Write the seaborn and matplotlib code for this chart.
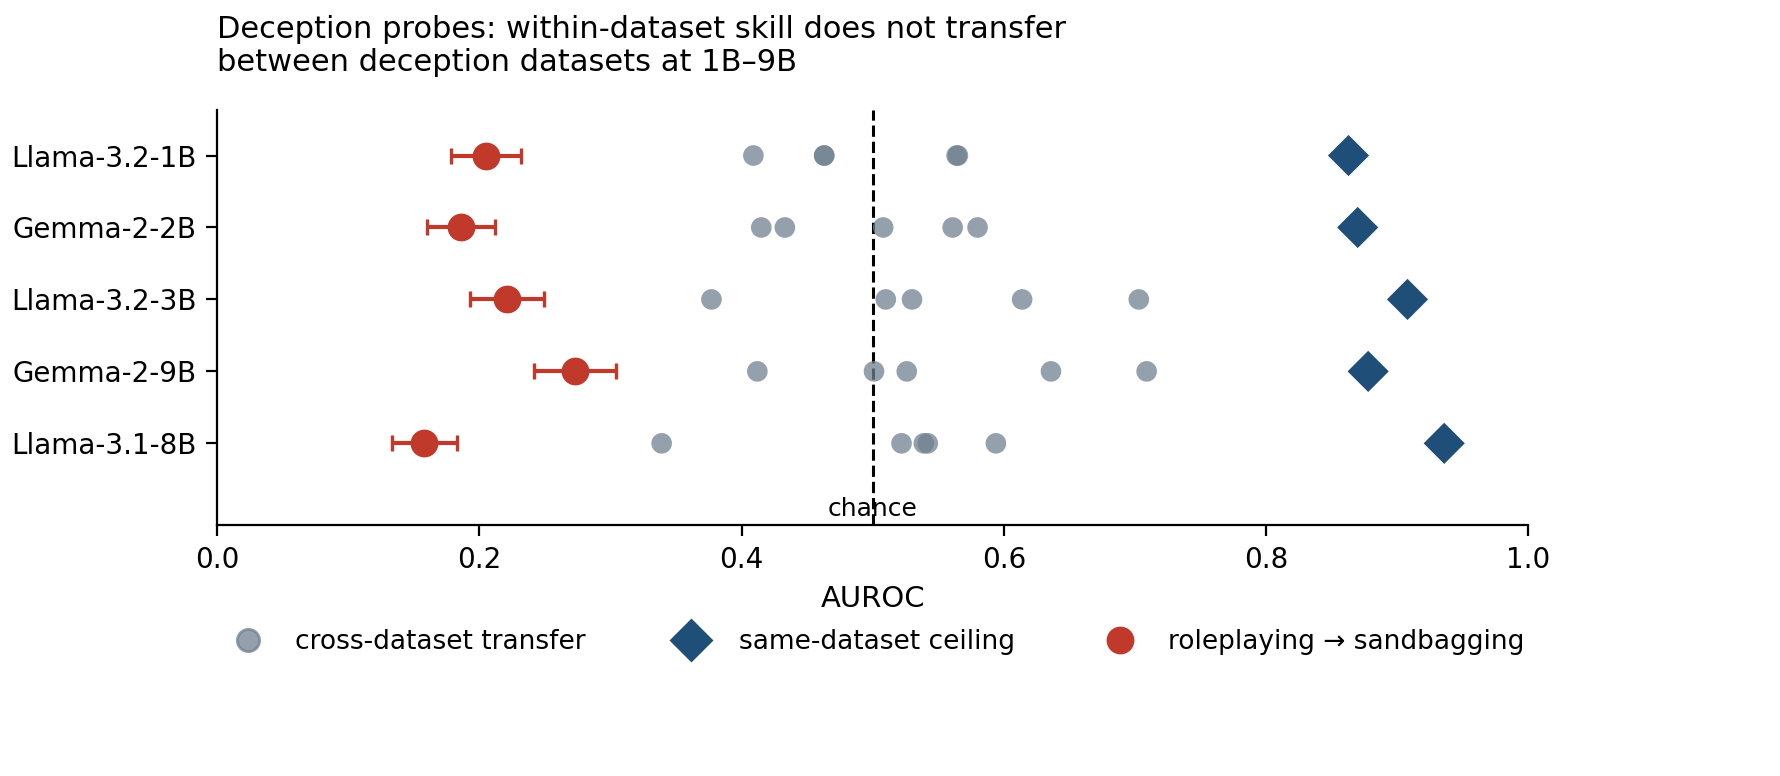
import matplotlib
matplotlib.use("Agg")
import matplotlib.pyplot as plt
import seaborn as sns
import pandas as pd
from matplotlib.lines import Line2D

models = ["Llama-3.2-1B", "Gemma-2-2B", "Llama-3.2-3B", "Gemma-2-9B", "Llama-3.1-8B"]
cross = [
    [0.409, 0.463, 0.463, 0.564, 0.565],
    [0.415, 0.433, 0.508, 0.561, 0.580],
    [0.377, 0.510, 0.530, 0.614, 0.703],
    [0.412, 0.501, 0.526, 0.636, 0.709],
    [0.339, 0.522, 0.539, 0.542, 0.594],
]
ceiling = [0.863, 0.870, 0.908, 0.878, 0.936]
rp_sb = [0.205, 0.186, 0.221, 0.273, 0.158]
rp_err = [0.027, 0.026, 0.028, 0.031, 0.025]

sns.set_style("white")
plt.rcParams["font.family"] = ["DejaVu Sans"]
for k in ["text.color", "axes.labelcolor", "xtick.color", "ytick.color"]:
    plt.rcParams[k] = "black"
fig = plt.figure(figsize=(8.905, 3.88), dpi=200)
ax = fig.add_axes([0.122, 0.323, 0.736, 0.535])

cross_df = pd.DataFrame([(m, v) for m, vals in zip(models, cross) for v in vals], columns=["model", "auroc"])
ypos = {m: i for i, m in enumerate(models)}
cross_df["y"] = cross_df["model"].map(ypos)
sns.scatterplot(data=cross_df, x="auroc", y="y", color="#708090", alpha=0.75, s=55, edgecolor="none", ax=ax, zorder=3)
ceil_df = pd.DataFrame({"auroc": ceiling, "y": range(len(models))})
sns.scatterplot(data=ceil_df, x="auroc", y="y", marker="D", color="#1f4e79", s=110, edgecolor="none", ax=ax, zorder=3)
ax.errorbar(rp_sb, range(len(models)), xerr=rp_err, fmt="o", color="#c0392b", ms=9, capsize=3, elinewidth=1.5, capthick=1.2, zorder=4)

ax.axvline(0.5, color="black", ls="--", lw=1.1)
ax.text(0.5, 5.08, "chance", ha="center", va="bottom", fontsize=9)
ax.set_xlim(0, 1)
ax.set_ylim(5.14, -0.63)
ax.set_yticks(range(len(models)))
ax.set_yticklabels(models, fontsize=10)
ax.tick_params(axis="x", labelsize=10, length=4, bottom=True)
ax.tick_params(axis="y", length=4, left=True)
ax.set_xlabel("AUROC", fontsize=10.5)
ax.set_ylabel("")
for s in ["top", "right"]:
    ax.spines[s].set_visible(False)
for s in ["left", "bottom"]:
    ax.spines[s].set_color("black")
    ax.spines[s].set_linewidth(0.8)
ax.set_title("Deception probes: within-dataset skill does not transfer\nbetween deception datasets at 1B–9B",
             loc="left", fontsize=11, pad=14)

handles = [
    Line2D([], [], marker="o", ls="none", color="#708090", alpha=0.75, ms=8),
    Line2D([], [], marker="D", ls="none", color="#1f4e79", ms=10),
    ax.errorbar([], [], xerr=[], fmt="o", color="#c0392b", ms=9, capsize=3),
]
fig.legend(handles, ["cross-dataset transfer", "same-dataset ceiling", "roleplaying → sandbagging"],
           loc="center", bbox_to_anchor=(0.49, 0.173), ncol=3, frameon=False, fontsize=9.5, columnspacing=3)
fig.savefig("out.png", dpi=200)
